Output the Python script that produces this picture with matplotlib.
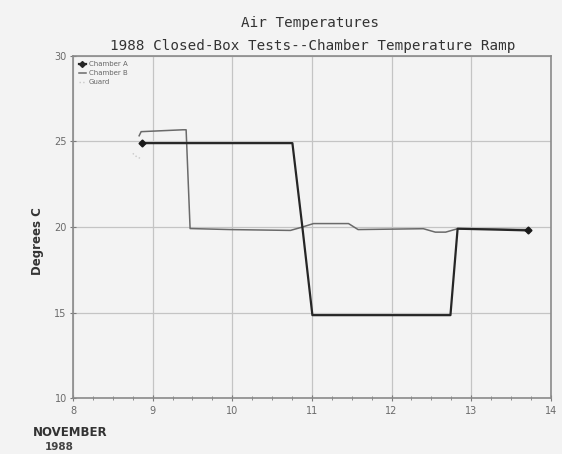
import matplotlib
matplotlib.use("Agg")
import matplotlib.pyplot as plt
from matplotlib.ticker import MultipleLocator

# Data (day of November 1988, degrees C)
a_days = [8.87, 9.5, 10.2, 10.755, 10.88, 11.006, 11.5, 12.2, 12.74, 12.83, 13.3, 13.72]
a_temp = [24.9, 24.9, 24.9, 24.9, 20.0, 14.85, 14.85, 14.85, 14.85, 19.9, 19.85, 19.8]

b_days = [8.83, 8.855, 9.38, 9.42, 9.47, 9.97, 10.73, 10.86, 11.02, 11.46, 11.58, 12.40, 12.55, 12.68, 12.83, 13.72]
b_temp = [25.33, 25.57, 25.68, 25.68, 19.91, 19.85, 19.8, 19.97, 20.2, 20.2, 19.85, 19.9, 19.7, 19.7, 19.9, 19.85]

g_days = [8.75, 8.8, 8.85]
g_temp = [24.3, 24.1, 24.0]

x_ticks = [8, 9, 10, 11, 12, 13, 14]
y_ticks = [10, 15, 20, 25, 30]

bg = "#f3f3f3"
fig = plt.figure(figsize=(5.62, 4.54), dpi=100, facecolor=bg)
ax = fig.add_axes([0.130, 0.123, 0.850, 0.754])
ax.set_facecolor(bg)

ax.plot(g_days, g_temp, color="#c8c8c8", lw=1.0, ls=":", label="Guard", zorder=2)
ax.plot(b_days, b_temp, color="#6a6a6a", lw=1.1, label="Chamber B", zorder=3)
ax.plot(a_days, a_temp, color="#262626", lw=1.6, label="Chamber A", zorder=4)
ax.plot([a_days[0], a_days[-1]], [a_temp[0], a_temp[-1]], ls="none",
        marker="D", ms=3.5, color="#1a1a1a", zorder=5)

ax.set_xlim(8, 14)
ax.set_ylim(10, 30)
ax.set_xticks(x_ticks)
ax.set_yticks(y_ticks)
ax.xaxis.set_minor_locator(MultipleLocator(0.25))
ax.grid(True, which="major", color="#c4c4c4", lw=0.9)
for s in ax.spines.values():
    s.set_color("#8a8a8a")
    s.set_linewidth(1.2)
ax.tick_params(axis="both", which="both", colors="#7a7a7a", labelcolor="#6a6a6a",
               labelsize=7, direction="inout")
ax.tick_params(axis="x", which="major", length=5)
ax.tick_params(axis="x", which="minor", length=3)
ax.tick_params(axis="y", which="major", length=5, pad=2)

# Legend (order: A, B, Guard)
h, l = ax.get_legend_handles_labels()
order = [2, 1, 0]
leg = ax.legend([h[i] for i in order], [l[i] for i in order], loc="upper left",
                frameon=False, fontsize=5, handlelength=1.0, handletextpad=0.5,
                labelspacing=0.4, borderaxespad=0.4, labelcolor="#666666")
leg.legend_handles[0].set_marker("D")
leg.legend_handles[0].set_markersize(3)

mono = "DejaVu Sans Mono"
fig.text(0.552, 0.950, "Air Temperatures", ha="center", va="center",
         fontsize=10.3, color="#333333", family=mono)
fig.text(0.557, 0.898, "1988 Closed-Box Tests--Chamber Temperature Ramp",
         ha="center", va="center", fontsize=10.3, color="#333333", family=mono)
fig.text(0.066, 0.47, "Degrees C", rotation=90, ha="center", va="center",
         fontsize=8.5, color="#333333", fontweight="bold")
fig.text(0.058, 0.048, "NOVEMBER", ha="left", va="center", fontsize=8.5,
         color="#333333", fontweight="bold")
fig.text(0.08, 0.015, "1988", ha="left", va="center", fontsize=7.5,
         color="#444444", fontweight="bold")

fig.savefig("out.png", dpi=100, facecolor=bg)
